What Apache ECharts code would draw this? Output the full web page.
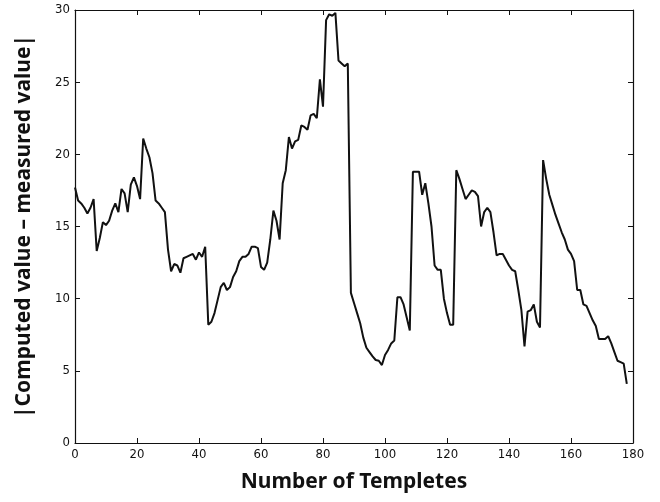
<!DOCTYPE html>
<html>
<head>
<meta charset="utf-8">
<script src="https://cdn.jsdelivr.net/npm/echarts@6/dist/echarts.min.js"></script>
<style>
  html, body { margin: 0; padding: 0; background: #fff; }
  #chart { width: 660px; height: 502px; }
</style>
</head>
<body>
<div id="chart"></div>
<script>
// |computed - measured| for each template, index 0..178
const errValues = [
  17.7, 16.8, 16.6, 16.3, 15.9, 16.3, 16.9, 13.3, 14.2, 15.3,
  15.1, 15.4, 16.1, 16.6, 16.0, 17.6, 17.3, 16.0, 17.9, 18.4,
  17.8, 16.9, 21.1, 20.4, 19.8, 18.7, 16.8, 16.6, 16.3, 16.0,
  13.4, 11.9, 12.4, 12.3, 11.8, 12.8, 12.9, 13.0, 13.1, 12.7,
  13.2, 12.9, 13.6, 8.2, 8.4, 9.0, 9.9, 10.8, 11.1, 10.6,
  10.8, 11.5, 11.9, 12.6, 12.9, 12.9, 13.1, 13.6, 13.6, 13.5,
  12.2, 12.0, 12.5, 14.1, 16.1, 15.4, 14.1, 18.0, 18.9, 21.2,
  20.4, 20.9, 21.0, 22.0, 21.9, 21.7, 22.7, 22.8, 22.5, 25.2,
  23.3, 29.3, 29.7, 29.6, 29.8, 26.5, 26.3, 26.1, 26.3, 10.4,
  9.7, 9.0, 8.3, 7.3, 6.6, 6.3, 6.0, 5.75, 5.7, 5.4,
  6.1, 6.45, 6.9, 7.1, 10.1, 10.1, 9.6, 8.7, 7.8, 18.8,
  18.8, 18.8, 17.2, 18.0, 16.6, 15.0, 12.3, 12.0, 12.0, 10.0,
  9.0, 8.2, 8.2, 18.9, 18.3, 17.6, 16.9, 17.2, 17.5, 17.4,
  17.1, 15.0, 16.0, 16.3, 16.0, 14.6, 13.0, 13.1, 13.1, 12.7,
  12.3, 12.0, 11.9, 10.6, 9.2, 6.7, 9.1, 9.2, 9.6, 8.4,
  8.0, 19.6, 18.3, 17.2, 16.5, 15.8, 15.2, 14.6, 14.1, 13.4,
  13.1, 12.6, 10.6, 10.6, 9.6, 9.5, 9.0, 8.5, 8.1, 7.2,
  7.2, 7.2, 7.4, 6.9, 6.3, 5.7, 5.6, 5.5, 4.1
];
const xTitle = 'Number of Templetes';
const yTitle = '|Computed value \u2013 measured value|';

const points = errValues.map((v, i) => [i, v]);

const tickFont = { fontFamily: '"Liberation Sans Narrow", "DejaVu Sans Condensed", "Liberation Sans", sans-serif', fontSize: 13, color: '#111' };
const titleFont = { fontFamily: '"Noto Sans", "Open Sans", sans-serif', fontWeight: 'bold', fontSize: 21, color: '#111' };
const frameLine = { show: true, onZero: false, lineStyle: { color: '#111', width: 1.2 } };
const inTick = { show: true, inside: true, length: 5, lineStyle: { color: '#111', width: 1 } };

const chart = echarts.init(document.getElementById('chart'));
chart.setOption({
  animation: false,
  backgroundColor: '#fff',
  grid: { left: 75, top: 10, width: 558, height: 433, containLabel: false },
  xAxis: [
    {
      type: 'value', min: 0, max: 180, interval: 20, position: 'bottom',
      axisLine: frameLine, axisTick: inTick, splitLine: { show: false },
      axisLabel: Object.assign({ margin: 5 }, tickFont),
      name: xTitle, nameLocation: 'middle', nameGap: 29, nameTextStyle: titleFont
    },
    {
      type: 'value', min: 0, max: 180, interval: 20, position: 'top',
      axisLine: frameLine, axisTick: inTick, splitLine: { show: false },
      axisLabel: { show: false }
    }
  ],
  yAxis: [
    {
      type: 'value', min: 0, max: 30, interval: 5, position: 'left',
      axisLine: frameLine, axisTick: inTick, splitLine: { show: false },
      axisLabel: Object.assign({ margin: 5 }, tickFont),
      name: yTitle, nameLocation: 'middle', nameGap: 40, nameTextStyle: titleFont
    },
    {
      type: 'value', min: 0, max: 30, interval: 5, position: 'right',
      axisLine: frameLine, axisTick: inTick, splitLine: { show: false },
      axisLabel: { show: false }
    }
  ],
  series: [{
    type: 'line',
    data: points,
    xAxisIndex: 0, yAxisIndex: 0,
    showSymbol: false,
    lineStyle: { color: '#111', width: 2 }
  }]
});
</script>
</body>
</html>
